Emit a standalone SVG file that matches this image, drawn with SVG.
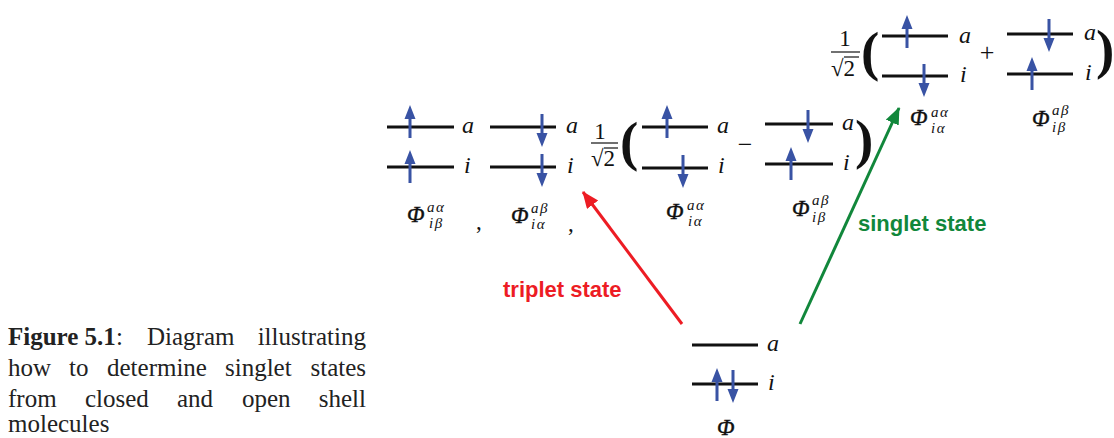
<svg xmlns="http://www.w3.org/2000/svg" xmlns:xlink="http://www.w3.org/1999/xlink" width="1114" height="438" viewBox="0 0 1114 438">
<style>
.lvl{stroke:#111;stroke-width:3;fill:none}
.spin{fill:#3953a4}
.lab{font-family:"Liberation Serif",serif;font-style:italic;font-size:24px;fill:#111}
.phi{font-family:"Liberation Serif",serif;font-style:italic;font-size:23px;fill:#111;stroke:#111;stroke-width:0.4}
.sx{font-family:"Liberation Serif",serif;font-style:italic;font-size:15px;fill:#111;letter-spacing:1.5px}
.num{font-family:"Liberation Serif",serif;font-size:23px;fill:#111}
.op{font-family:"Liberation Serif",serif;font-size:26px;fill:#111}
.par{font-family:"Liberation Serif",serif;font-weight:bold;font-size:55px;fill:#111}
.frac{stroke:#111;stroke-width:1.2}
.cap{font-family:"Liberation Serif",serif;font-size:25px;fill:#222}
.st{font-family:"Liberation Sans",Arial,sans-serif;font-weight:bold;font-size:22px}
</style>
<defs>
<path id="up" d="M0,0 L-5.5,14 L-1.5,14 L-1.5,33 L1.5,33 L1.5,14 L5.5,14 Z"/>
<path id="dn" d="M0,0 L-5.5,-14 L-1.5,-14 L-1.5,-33 L1.5,-33 L1.5,-14 L5.5,-14 Z"/>
<marker id="hr" markerUnits="userSpaceOnUse" markerWidth="20" markerHeight="16" refX="16" refY="7" orient="auto"><path d="M0,0 L17,7 L0,14 Z" fill="#ed1c24"/></marker>
<marker id="hg" markerUnits="userSpaceOnUse" markerWidth="20" markerHeight="16" refX="16" refY="7" orient="auto"><path d="M0,0 L17,7 L0,14 Z" fill="#11873b"/></marker>
</defs>

<g id="connectors">
<line x1="682" y1="324" x2="583" y2="192" stroke="#ed1c24" stroke-width="3" marker-end="url(#hr)"/>
<line x1="800" y1="324" x2="899" y2="108" stroke="#11873b" stroke-width="3" marker-end="url(#hg)"/>
<text class="st" x="503" y="297" fill="#ed1c24">triplet state</text>
<text class="st" x="858" y="231" fill="#11873b">singlet state</text>
</g>

<g id="ground">
<line class="lvl" x1="692" y1="345" x2="758" y2="345"/>
<line class="lvl" x1="692" y1="384" x2="758" y2="384"/>
<use xlink:href="#up" class="spin" x="717" y="368"/>
<use xlink:href="#dn" class="spin" x="733" y="403"/>
<text class="lab" x="767" y="351">a</text>
<text class="lab" x="768" y="390">i</text>
<text class="phi" x="717" y="435">Φ</text>
</g>

<g id="triplet-1">
<line class="lvl" x1="387" y1="127" x2="454" y2="127"/>
<line class="lvl" x1="387" y1="167" x2="454" y2="167"/>
<use xlink:href="#up" class="spin" x="410" y="105"/>
<use xlink:href="#up" class="spin" x="410" y="150"/>
<text class="lab" x="462" y="133">a</text>
<text class="lab" x="464" y="173">i</text>
<text class="phi" x="407" y="222">Φ</text>
<text class="sx" x="427" y="212">aα</text>
<text class="sx" x="429" y="228">iβ</text>
<text class="num" x="476" y="229">,</text>
</g>

<g id="triplet-2">
<line class="lvl" x1="490" y1="127" x2="556" y2="127"/>
<line class="lvl" x1="490" y1="167" x2="556" y2="167"/>
<use xlink:href="#dn" class="spin" x="542" y="147"/>
<use xlink:href="#dn" class="spin" x="542" y="187"/>
<text class="lab" x="566" y="133">a</text>
<text class="lab" x="567" y="173">i</text>
<text class="phi" x="511" y="223">Φ</text>
<text class="sx" x="531" y="213">aβ</text>
<text class="sx" x="531" y="229">iα</text>
<text class="num" x="568" y="231">,</text>
</g>

<g id="triplet-3">
<text class="num" x="600" y="139" text-anchor="middle">1</text>
<line class="frac" x1="591" y1="143" x2="618" y2="143"/>
<text class="num" x="591" y="166">√2</text>
<line class="frac" x1="604" y1="148" x2="618" y2="148"/>
<text class="par" x="620" y="160">(</text>
<line class="lvl" x1="642" y1="127" x2="708" y2="127"/>
<line class="lvl" x1="642" y1="168" x2="708" y2="168"/>
<use xlink:href="#up" class="spin" x="667" y="105"/>
<use xlink:href="#dn" class="spin" x="683" y="188"/>
<text class="lab" x="717" y="133">a</text>
<text class="lab" x="718" y="173">i</text>
<text class="phi" x="666" y="219">Φ</text>
<text class="sx" x="687" y="210">aα</text>
<text class="sx" x="688" y="226">iα</text>
<text class="op" x="745" y="153" text-anchor="middle">−</text>
<line class="lvl" x1="765" y1="124" x2="833" y2="124"/>
<line class="lvl" x1="765" y1="164" x2="833" y2="164"/>
<use xlink:href="#dn" class="spin" x="808" y="143"/>
<use xlink:href="#up" class="spin" x="791" y="147"/>
<text class="lab" x="842" y="130">a</text>
<text class="lab" x="843" y="170">i</text>
<text class="par" x="855" y="158">)</text>
<text class="phi" x="792" y="216">Φ</text>
<text class="sx" x="812" y="205">aβ</text>
<text class="sx" x="812" y="222">iβ</text>
</g>

<g id="singlet">
<text class="num" x="845" y="46" text-anchor="middle">1</text>
<line class="frac" x1="831" y1="52" x2="860" y2="52"/>
<text class="num" x="831" y="76">√2</text>
<line class="frac" x1="844" y1="57" x2="859" y2="57"/>
<text class="par" x="861" y="70">(</text>
<line class="lvl" x1="882" y1="36" x2="948" y2="36"/>
<line class="lvl" x1="882" y1="76" x2="948" y2="76"/>
<use xlink:href="#up" class="spin" x="907" y="15"/>
<use xlink:href="#dn" class="spin" x="924" y="97"/>
<text class="lab" x="959" y="43">a</text>
<text class="lab" x="960" y="82">i</text>
<text class="phi" x="910" y="125">Φ</text>
<text class="sx" x="931" y="117">aα</text>
<text class="sx" x="931" y="133">iα</text>
<text class="op" x="987" y="61" text-anchor="middle">+</text>
<line class="lvl" x1="1007" y1="34" x2="1073" y2="34"/>
<line class="lvl" x1="1007" y1="74" x2="1073" y2="74"/>
<use xlink:href="#dn" class="spin" x="1049" y="52"/>
<use xlink:href="#up" class="spin" x="1032" y="57"/>
<text class="lab" x="1084" y="40">a</text>
<text class="lab" x="1085" y="80">i</text>
<text class="par" x="1096" y="68">)</text>
<text class="phi" x="1032" y="126">Φ</text>
<text class="sx" x="1052" y="115">aβ</text>
<text class="sx" x="1052" y="132">iβ</text>
</g>

<g id="caption" class="cap">
<text x="8" y="345"><tspan font-weight="bold">Figure 5.1</tspan>:</text>
<text x="147" y="345">Diagram</text>
<text x="366" y="345" text-anchor="end">illustrating</text>
<text x="8" y="376">how</text>
<text x="69" y="376">to</text>
<text x="107" y="376">determine</text>
<text x="225" y="376">singlet</text>
<text x="366" y="376" text-anchor="end">states</text>
<text x="8" y="407">from</text>
<text x="85" y="407">closed</text>
<text x="177" y="407">and</text>
<text x="242" y="407">open</text>
<text x="366" y="407" text-anchor="end">shell</text>
<text x="8" y="432">molecules</text>
</g>
</svg>
